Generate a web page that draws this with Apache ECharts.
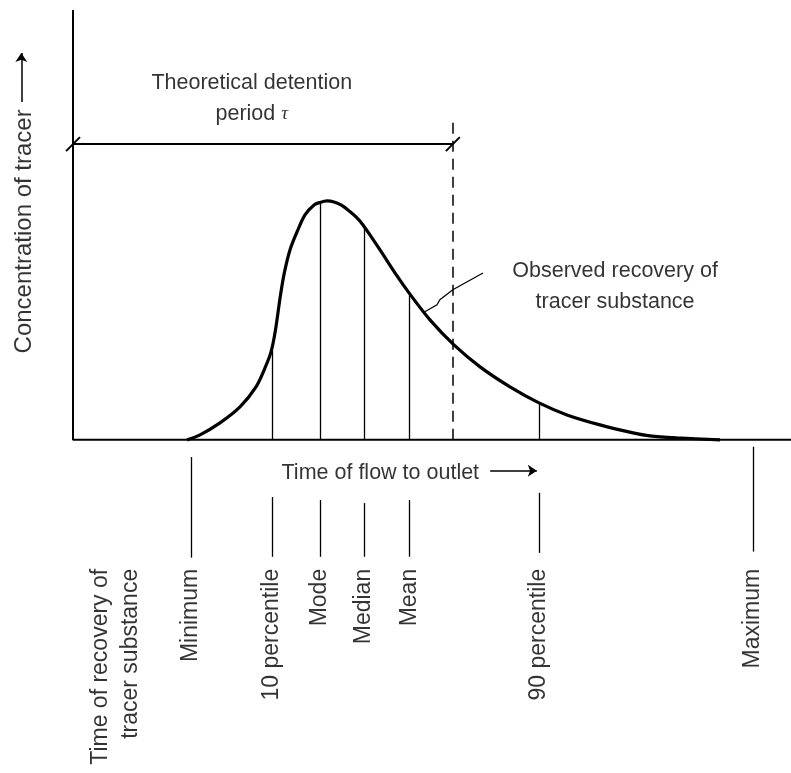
<!DOCTYPE html>
<html>
<head>
<meta charset="utf-8">
<script src="https://cdn.jsdelivr.net/npm/echarts@6/dist/echarts.min.js"></script>
<style>
html,body{margin:0;padding:0;background:#ffffff;}
#chart{width:791px;height:773px;}
</style>
</head>
<body>
<div id="chart"></div>
<script>
// ---- data (time of flow in arbitrary units, concentration in arbitrary units) ----
const curveX = [15.88, 17.69, 20.47, 23.26, 25.49, 26.74, 27.58, 28.20, 28.90, 29.46, 30.22, 31.20, 32.31, 33.57, 34.40, 35.38, 36.35, 37.33, 38.30, 39.42, 40.39, 41.64, 42.76, 45.13, 46.80, 49.72, 53.06, 56.69, 60.86, 64.90, 68.80, 73.40, 78.00, 80.36, 84.12, 90.11];
const curveY = [0.00, 1.16, 3.95, 7.67, 12.33, 16.74, 20.47, 25.58, 33.72, 39.07, 44.19, 48.37, 52.33, 54.65, 55.23, 55.58, 55.35, 54.65, 53.49, 51.86, 50.00, 46.98, 44.19, 38.14, 34.19, 27.91, 22.09, 16.98, 12.33, 8.60, 5.81, 3.49, 1.63, 0.93, 0.47, 0.00];

const markerNames = ['Minimum', '10 percentile', 'Mode', 'Median', 'Mean', '90 percentile', 'Maximum'];
const markerX = [16.4, 27.7, 34.4, 40.5, 46.9, 64.9, 94.7];
const markerHeight = [0, 20.8, 55.2, 49.8, 34.2, 8.6, 0];
const leaderTop = [-4.0, -13.3, -14.0, -14.7, -14.0, -12.3, -1.6];
const leaderBottom = [-27.4, -27.2, -27.2, -27.2, -27.2, -26.3, -26.0];

const recoveryLabel = 'Time of recovery of\ntracer substance';
const recoveryX = 6.0;

const tauX = 52.9;          // theoretical detention period
const tauTop = 74.0;
const detentionLevel = 68.8;

const xMax = 100, yMax = 100, yMin = -77.5;

// observed-recovery pointer
const pointerX = [49.0, 50.7, 51.1, 52.9, 57.1];
const pointerY = [29.8, 31.4, 32.6, 34.9, 38.8];

const FONT = '"Liberation Sans", Arial, Helvetica, sans-serif';

// ---- build segments ----
const thinSegs = [];
markerX.forEach((x, i) => {
  if (markerHeight[i] > 0) thinSegs.push({coords: [[x, 0], [x, markerHeight[i]]]});
  thinSegs.push({coords: [[x, leaderTop[i]], [x, leaderBottom[i]]]});
});

const boldSegs = [
  {coords: [[0, detentionLevel], [tauX, detentionLevel]]},
  {coords: [[-0.97, detentionLevel - 1.63], [0.97, detentionLevel + 1.63]]},
  {coords: [[tauX - 0.97, detentionLevel - 1.63], [tauX + 0.97, detentionLevel + 1.63]]}
];

const pointerCoords = pointerX.map((x, i) => [x, pointerY[i]]);

const labelBase = {
  show: true, position: 'inside', color: '#000', fontFamily: FONT
};

const texts = [
  {value: [24.9, 79.5], label: Object.assign({}, labelBase, {
    formatter: 'Theoretical detention\nperiod {i|τ}', fontSize: 21.5, lineHeight: 31,
    align: 'center', verticalAlign: 'middle',
    rich: {i: {fontStyle: 'italic', fontFamily: '"Liberation Serif", "DejaVu Serif", serif', fontSize: 19, color: '#000'}}
  })},
  {value: [75.5, 35.6], label: Object.assign({}, labelBase, {
    formatter: 'Observed recovery of\ntracer substance', fontSize: 21.5, lineHeight: 31,
    align: 'center', verticalAlign: 'middle'
  })},
  {value: [42.8, -7.7], label: Object.assign({}, labelBase, {
    formatter: 'Time of flow to outlet', fontSize: 21.5,
    align: 'center', verticalAlign: 'middle'
  })},
  {value: [-6.8, 48.5], label: Object.assign({}, labelBase, {
    formatter: 'Concentration of tracer', fontSize: 24, rotate: 90,
    align: 'center', verticalAlign: 'middle'
  })},
  {value: [recoveryX, -30], label: Object.assign({}, labelBase, {
    formatter: recoveryLabel, fontSize: 23, lineHeight: 30, rotate: 90,
    align: 'right', verticalAlign: 'middle'
  })}
];
markerNames.forEach((n, i) => {
  texts.push({value: [markerX[i], -30], label: Object.assign({}, labelBase, {
    formatter: n, fontSize: 23, rotate: 90, align: 'right', verticalAlign: 'middle'
  })});
});

const chart = echarts.init(document.getElementById('chart'), null, {renderer: 'canvas'});
chart.setOption({
  backgroundColor: '#ffffff',
  animation: false,
  grid: {left: 73, right: 0, top: 10, bottom: 0, outerBoundsMode: 'none', containLabel: false},
  xAxis: {type: 'value', min: 0, max: xMax, show: false},
  yAxis: {type: 'value', min: yMin, max: yMax, show: false},
  series: [
    { // axes
      type: 'line', data: [[0, yMax], [0, 0], [xMax, 0]], showSymbol: false, clip: false,
      lineStyle: {color: '#000', width: 2}, silent: true
    },
    { // observed recovery curve
      type: 'line', data: curveX.map((x, i) => [x, curveY[i]]), smooth: 0.3,
      showSymbol: false, clip: false, lineStyle: {color: '#000', width: 3.2}, silent: true
    },
    { // thin verticals and leaders
      type: 'lines', coordinateSystem: 'cartesian2d', data: thinSegs, clip: false, silent: true,
      lineStyle: {color: '#000', width: 1.3, opacity: 1}
    },
    { // detention line
      type: 'lines', coordinateSystem: 'cartesian2d', data: boldSegs, clip: false, silent: true,
      lineStyle: {color: '#000', width: 2, opacity: 1}
    },
    { // tau dashed line
      type: 'lines', coordinateSystem: 'cartesian2d', data: [{coords: [[tauX, 0], [tauX, tauTop]]}],
      clip: false, silent: true, lineStyle: {color: '#000', width: 1.5, type: [11, 7], opacity: 1}
    },
    { // pointer
      type: 'lines', coordinateSystem: 'cartesian2d', polyline: true, data: [{coords: pointerCoords}],
      clip: false, silent: true, lineStyle: {color: '#000', width: 1.2, opacity: 1}
    },
    { // arrows
      type: 'lines', coordinateSystem: 'cartesian2d', clip: false, silent: true,
      symbol: ['none', 'arrow'], symbolSize: [0, 9],
      data: [{coords: [[58.1, -7.2], [64.6, -7.2]]}, {coords: [[-7.2, 78.6], [-7.2, 90.0]]}],
      lineStyle: {color: '#000', width: 1.5, opacity: 1}, itemStyle: {color: '#000'}
    },
    { // text annotations
      type: 'scatter', data: texts, symbolSize: 1, clip: false, silent: true,
      itemStyle: {color: 'rgba(0,0,0,0)'}
    }
  ]
});
</script>
</body>
</html>
